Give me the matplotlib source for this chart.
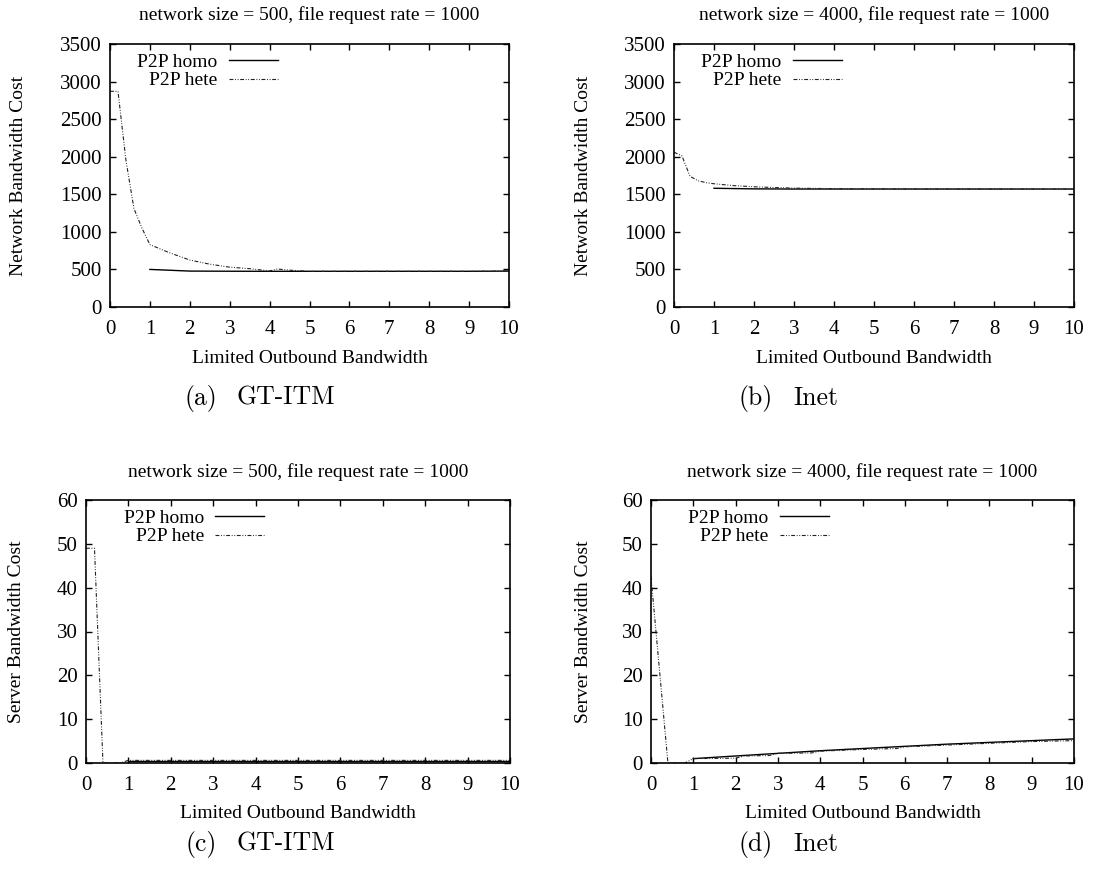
import matplotlib
matplotlib.use("Agg")
import matplotlib.pyplot as plt

plt.rcParams["font.family"] = ["Liberation Serif", "DejaVu Serif"]

# %%
# data
bw_int = [1, 2, 3, 4, 5, 6, 7, 8, 9, 10]

a_homo = [500, 478, 476, 475, 475, 475, 475, 475, 475, 478]
a_hete_x = [0, 0.2, 0.4, 0.6, 0.8, 1, 1.5, 2, 2.5, 3, 3.5, 4, 4.2, 4.5, 5, 6, 7, 8, 9, 10]
a_hete = [2870, 2870, 1950, 1310, 1050, 830, 720, 625, 570, 530, 510, 480, 505, 490, 475, 475, 475, 475, 475, 478]

b_homo = [1580, 1572, 1570, 1570, 1570, 1570, 1570, 1570, 1570, 1570]
b_hete_x = [0, 0.2, 0.4, 0.6, 0.8, 1, 1.5, 2, 2.5, 3, 3.5, 4, 5, 6, 7, 8, 9, 10]
b_hete = [2060, 2010, 1740, 1680, 1655, 1640, 1615, 1600, 1590, 1582, 1578, 1575, 1572, 1570, 1570, 1570, 1570, 1570]

c_homo = [0.5, 0.5, 0.5, 0.5, 0.5, 0.5, 0.5, 0.5, 0.5, 0.5]
c_hete_x = [0, 0.2, 0.4, 0.6, 0.8, 1, 2, 3, 4, 5, 6, 7, 8, 9, 10]
c_hete = [49, 49, 0, 0, 0, 0.6, 0.6, 0.6, 0.6, 0.6, 0.6, 0.6, 0.6, 0.6, 0.6]

d_homo = [1.0, 1.6, 2.2, 2.8, 3.3, 3.8, 4.3, 4.7, 5.1, 5.5]
d_hete_x = [0, 0.4, 0.6, 0.8, 1, 2, 2.2, 2.8, 3, 3.8, 4, 5, 5.8, 6, 7, 8, 9, 10]
d_hete = [42.5, 0, 0, 0, 1.0, 1.1, 1.6, 1.7, 2.2, 2.3, 2.7, 3.1, 3.3, 3.7, 4.1, 4.5, 4.9, 5.1]

net_yticks = [0, 500, 1000, 1500, 2000, 2500, 3000, 3500]
srv_yticks = [0, 10, 20, 30, 40, 50, 60]
xticks = [0, 1, 2, 3, 4, 5, 6, 7, 8, 9, 10]

titles = [
    "network size = 500, file request rate = 1000",
    "network size = 4000, file request rate = 1000",
    "network size = 500, file request rate = 1000",
    "network size = 4000, file request rate = 1000",
]
captions = ["(a)", "(b)", "(c)", "(d)"]
topologies = ["GT-ITM", "Inet", "GT-ITM", "Inet"]

# %%
W, H = 1093, 869
fig = plt.figure(figsize=(W / 100, H / 100), dpi=100)


def box(left, top, right, bottom):
    return [left / W, 1 - bottom / H, (right - left) / W, (bottom - top) / H]


FS = 14
TICK_FS = 15
HETE_DASH = (3.5, 1.5, 0.8, 1.5, 0.8, 1.5)


def draw_panel(rect, homo_y, hete_x, hete_y, yticks, ylabel, title, cap, topo,
               ylabel_x, cap_x, title_y, xlabel_y, cap_y):
    ax = fig.add_axes(box(*rect))
    ax.plot(bw_int, homo_y, color="black", lw=1.0, label="P2P homo")
    ax.plot(hete_x, hete_y, color="#222222", lw=0.8, dashes=HETE_DASH, label="P2P hete")
    ax.set_xlim(0, 10)
    ax.set_ylim(yticks[0], yticks[-1])
    ax.set_xticks(xticks)
    ax.set_yticks(yticks)
    ax.tick_params(direction="in", length=4.5, width=1.0, top=True, right=True,
                   labelsize=TICK_FS)
    ax.tick_params(axis="x", pad=9)
    ax.tick_params(axis="y", pad=6)
    for s in ax.spines.values():
        s.set_linewidth(1.2)
    ax.legend(loc="upper right", bbox_to_anchor=(0.42, 0.965), markerfirst=False,
              frameon=False, fontsize=FS, handlelength=2.5, handletextpad=0.6,
              labelspacing=0.05, borderpad=0, borderaxespad=0)

    left, top, right, bottom = rect
    cx = (left + right) / 2
    fig.text(cx / W, 1 - title_y / H, title, ha="center", va="center", fontsize=FS)
    fig.text(cx / W, 1 - xlabel_y / H, "Limited Outbound Bandwidth",
             ha="center", va="center", fontsize=FS)
    fig.text(ylabel_x / W, 1 - ((top + bottom) / 2) / H, ylabel, rotation=90,
             ha="center", va="center", fontsize=FS)
    fig.text((cap_x - 10) / W, 1 - cap_y / H, cap, ha="right", va="center",
             fontsize=18.5, family="cmr10")
    fig.text((cap_x + 10) / W, 1 - cap_y / H, topo, ha="left", va="center",
             fontsize=18.5, family="cmr10")
    return ax


draw_panel((110, 44, 509, 307), a_homo, a_hete_x, a_hete, net_yticks,
           "Network Bandwidth Cost", titles[0], captions[0], topologies[0],
           19, 227, 15, 358, 398)
draw_panel((674, 44, 1074, 307), b_homo, b_hete_x, b_hete, net_yticks,
           "Network Bandwidth Cost", titles[1], captions[1], topologies[1],
           583, 783, 15, 358, 398)
draw_panel((86, 500, 510, 763), c_homo, c_hete_x, c_hete, srv_yticks,
           "Server Bandwidth Cost", titles[2], captions[2], topologies[2],
           17, 227, 472, 813, 844)
draw_panel((651, 500, 1074, 763), d_homo, d_hete_x, d_hete, srv_yticks,
           "Server Bandwidth Cost", titles[3], captions[3], topologies[3],
           583, 783, 472, 813, 844)

fig.savefig("out.png", dpi=100)
